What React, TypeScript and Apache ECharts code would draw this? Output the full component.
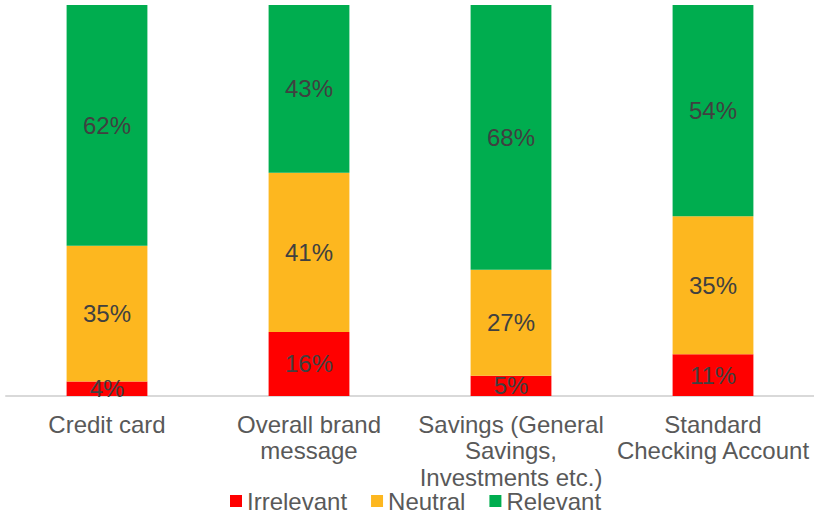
import React, { useEffect, useRef } from "react";
import * as echarts from "echarts";

const categories = [
  "Credit card",
  "Overall brand\nmessage",
  "Savings (General\nSavings,\nInvestments etc.)",
  "Standard\nChecking Account",
];
const irrelevant = [3.7, 16.4, 5.2, 10.7];
const neutral = [34.7, 40.7, 27.1, 35.3];
const relevant = [61.6, 42.9, 67.7, 54.0];
const seriesNames = ["Irrelevant", "Neutral", "Relevant"];
const colors = ["#FF0000", "#FDB71F", "#00AD4F"];

export default function App() {
  const ref = useRef<HTMLDivElement>(null);
  useEffect(() => {
    const chart = echarts.init(ref.current!, null, { renderer: "svg" });
    const font = "'Liberation Sans', Arial, sans-serif";
    const mk = (name: string, data: number[], color: string) => ({
      name,
      type: "bar",
      stack: "total",
      data,
      barWidth: "40%",
      itemStyle: { color },
      label: {
        show: true,
        position: "inside",
        formatter: (p: any) => Math.round(p.value) + "%",
        color: "#404040",
        fontSize: 24,
        fontFamily: font,
      },
    });
    chart.setOption({
      animation: false,
      textStyle: { fontFamily: font },
      grid: { left: 6, top: 5, width: 810, height: 391, containLabel: false },
      legend: {
        top: 489,
        left: 230,
        itemWidth: 12,
        itemHeight: 12,
        itemGap: 24,
        icon: "rect",
        padding: 0,
        textStyle: {
          fontSize: 24,
          lineHeight: 20,
          height: 20,
          color: "#595959",
          fontFamily: font,
          padding: [0, 0, 0, 0],
        },
        data: seriesNames,
      },
      xAxis: {
        type: "category",
        data: categories,
        axisLine: { lineStyle: { color: "#D9D9D9", width: 2 } },
        axisTick: { show: false },
        axisLabel: {
          color: "#595959",
          fontSize: 24,
          lineHeight: 26.5,
          margin: 15,
          fontFamily: font,
          interval: 0,
        },
      },
      yAxis: { type: "value", min: 0, max: 100, show: false },
      series: [
        mk(seriesNames[0], irrelevant, colors[0]),
        mk(seriesNames[1], neutral, colors[1]),
        mk(seriesNames[2], relevant, colors[2]),
      ],
    });
    return () => chart.dispose();
  }, []);
  return (
    <div
      ref={ref}
      style={{ position: "fixed", left: 0, top: 0, width: 814, height: 512, background: "#fff" }}
    />
  );
}
